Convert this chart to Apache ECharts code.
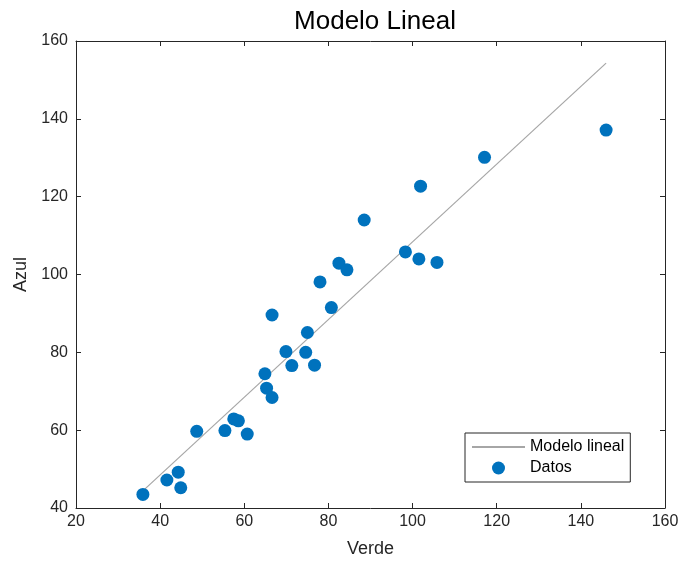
<!DOCTYPE html>
<html>
<head>
<meta charset="utf-8">
<title>Modelo Lineal</title>
<script src="https://cdn.jsdelivr.net/npm/echarts@6/dist/echarts.min.js"></script>
<style>
  html, body { margin: 0; padding: 0; background: #fff; }
  #chart { width: 678px; height: 563px; }
</style>
</head>
<body>
<div id="chart"></div>
<script>
// datos
const verde = [35.9, 41.6, 44.3, 44.9, 48.7, 55.4, 57.5, 58.6, 60.7, 64.9, 65.3, 66.6, 66.6, 69.9, 71.3,
  74.6, 75.0, 76.7, 78.0, 80.7, 82.5, 84.4, 88.5, 98.3, 101.5, 101.9, 105.8, 117.1, 146.0]
const azul = [43.5, 47.2, 49.2, 45.2, 59.7, 59.9, 62.9, 62.4, 59.0, 74.5, 70.8, 68.4, 89.6, 80.2, 76.6,
  80.0, 85.1, 76.7, 98.1, 91.5, 102.9, 101.2, 114.0, 105.8, 104.0, 122.7, 103.1, 130.1, 137.1]
// recta ajustada (extremos)
const modeloX = [35.9, 146.0]
const modeloY = [44.4, 154.3]

const xTicks = { min: 20, max: 160, interval: 20 }
const yTicks = { min: 40, max: 160, interval: 20 }

const font = 'Liberation Sans, Arial, sans-serif'
const axisColor = '#262626'

const chart = echarts.init(document.getElementById('chart'))

function boxAxis(pos, ticks, extra) {
  return Object.assign({
    type: 'value',
    position: pos,
    min: ticks.min,
    max: ticks.max,
    interval: ticks.interval,
    axisLine: { show: true, onZero: false, lineStyle: { color: axisColor, width: 1 } },
    axisTick: { show: true, inside: true, length: 5, lineStyle: { color: axisColor } },
    splitLine: { show: false },
    axisLabel: { show: false }
  }, extra || {})
}

chart.setOption({
  animation: false,
  textStyle: { fontFamily: font },
  title: {
    text: 'Modelo Lineal',
    left: 370,
    textAlign: 'center',
    top: 4,
    textStyle: { fontSize: 26, fontWeight: 'normal', color: '#000', fontFamily: font }
  },
  grid: { left: 76, right: 13, top: 41, bottom: 55, outerBoundsMode: 'none', containLabel: false },
  legend: {
    orient: 'vertical',
    left: 465,
    top: 433,
    padding: [6, 6, 6, 6],
    itemGap: 5,
    itemWidth: 53,
    itemHeight: 13,
    borderColor: axisColor,
    borderWidth: 1,
    borderRadius: 0,
    backgroundColor: '#fff',
    textStyle: { fontSize: 16, color: '#000', fontFamily: font },
    data: [
      { name: 'Modelo lineal', itemStyle: { opacity: 0 } },
      { name: 'Datos', icon: 'circle' }
    ]
  },
  xAxis: [
    boxAxis('bottom', xTicks, {
      name: 'Verde',
      nameLocation: 'middle',
      nameGap: 32,
      nameTextStyle: { fontSize: 18, color: axisColor, fontFamily: font },
      axisLabel: { show: true, fontSize: 16, color: axisColor, margin: 6, fontFamily: font }
    }),
    boxAxis('top', xTicks)
  ],
  yAxis: [
    boxAxis('left', yTicks, {
      name: 'Azul',
      nameLocation: 'middle',
      nameGap: 46,
      nameTextStyle: { fontSize: 18, color: axisColor, fontFamily: font },
      axisLabel: { show: true, fontSize: 16, color: axisColor, margin: 8, fontFamily: font }
    }),
    boxAxis('right', yTicks)
  ],
  series: [
    {
      name: 'Modelo lineal',
      type: 'line',
      symbol: 'none',
      data: modeloX.map((x, i) => [x, modeloY[i]]),
      lineStyle: { color: '#a6a6a6', width: 1.2 },
      itemStyle: { color: '#a6a6a6' },
      z: 1
    },
    {
      name: 'Datos',
      type: 'scatter',
      symbolSize: 13,
      data: verde.map((x, i) => [x, azul[i]]),
      itemStyle: { color: '#0072BD', opacity: 1 },
      z: 2
    }
  ]
})
</script>
</body>
</html>
